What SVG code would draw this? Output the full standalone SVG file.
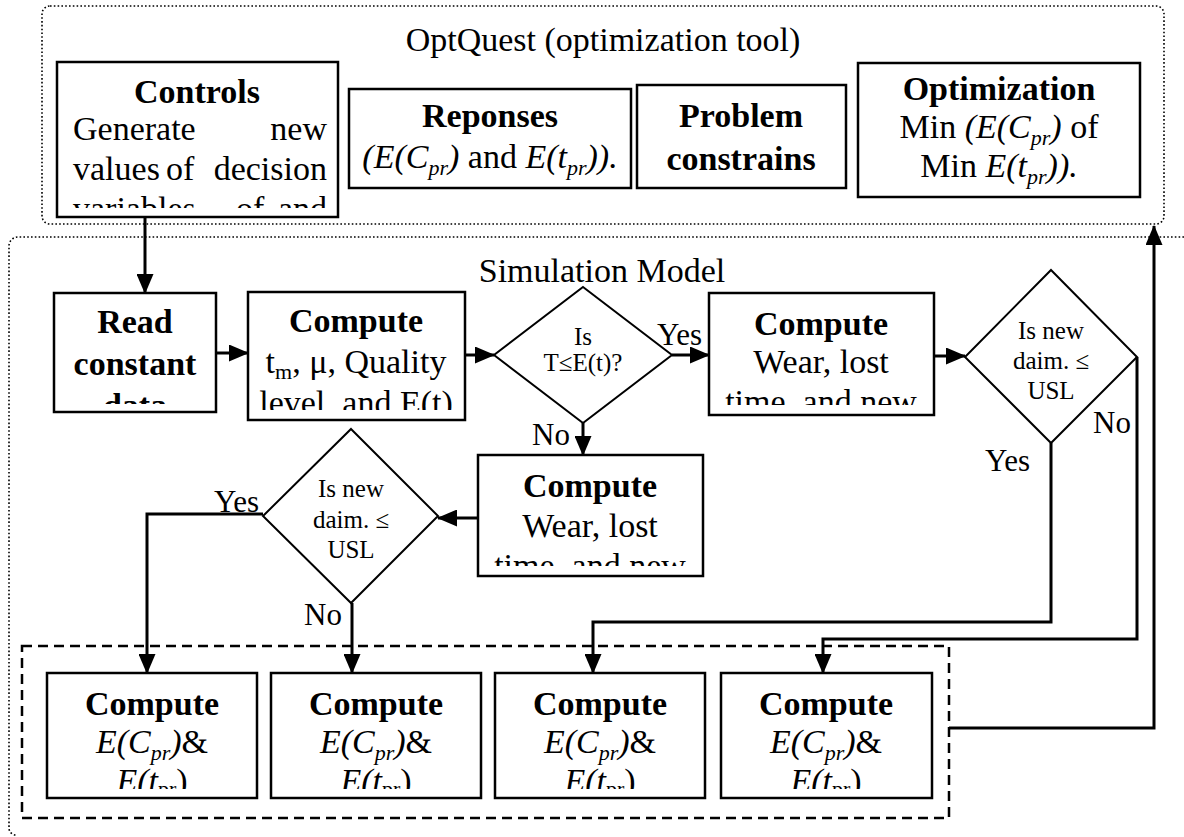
<svg xmlns="http://www.w3.org/2000/svg" width="1184" height="837" viewBox="0 0 1184 837">
<style>
.box{fill:#fff;stroke:#000;stroke-width:2.5}
.dia{fill:#fff;stroke:#000;stroke-width:2}
.dot{fill:none;stroke:#000;stroke-width:1.6;stroke-dasharray:1.6 2.2}
.dash{fill:none;stroke:#000;stroke-width:2.5;stroke-dasharray:10 6}
.t{font-family:"Liberation Serif","Times New Roman",serif;font-size:34px;fill:#000}
.b{font-weight:bold}
.i{font-style:italic}
.s{font-size:25px}
.lbl{font-size:31px}
.con{fill:none;stroke:#000;stroke-width:3}
</style>
<defs>
<marker id="ah" markerUnits="userSpaceOnUse" markerWidth="20" markerHeight="17" viewBox="0 0 20 17" refX="19" refY="8.5" orient="auto"><path d="M0,0 L20,8.5 L0,17 z" fill="#000"/></marker>
<clipPath id="cControls"><rect x="57" y="62" width="281" height="146"/></clipPath>
<clipPath id="cRead"><rect x="54" y="293" width="162" height="111"/></clipPath>
<clipPath id="cComp1"><rect x="248" y="292" width="217" height="118"/></clipPath>
<clipPath id="cWear1"><rect x="709" y="293" width="225" height="112"/></clipPath>
<clipPath id="cWear2"><rect x="478" y="455" width="225" height="111"/></clipPath>
<clipPath id="cBot"><rect x="22" y="673" width="927" height="116"/></clipPath>
</defs>
<rect width="1184" height="837" fill="#fff"/>

<g id="containers">
<rect class="dot" x="42" y="6" width="1122" height="218" rx="8"/>
<text class="t" x="603" y="51" text-anchor="middle">OptQuest (optimization tool)</text>
<path class="dot" d="M1184,237 H18 A9,9 0 0 0 9,246 V828 A7,7 0 0 0 16,835"/>
<text class="t" x="602" y="282" text-anchor="middle">Simulation Model</text>
<rect class="dash" x="22" y="646" width="927" height="172"/>
</g>

<g id="controls">
<rect class="box" x="57" y="62" width="281" height="155"/>
<g clip-path="url(#cControls)">
<text class="t b" x="197" y="103" text-anchor="middle">Controls</text>
<text class="t" y="140"><tspan x="73">Generate</tspan><tspan x="327" text-anchor="end">new</tspan></text>
<text class="t" y="180"><tspan x="73">values</tspan><tspan x="166">of</tspan><tspan x="327" text-anchor="end">decision</tspan></text>
<text class="t" y="220"><tspan x="73">variables</tspan><tspan x="236">of</tspan><tspan x="327" text-anchor="end">and</tspan></text>
</g>
</g>

<g id="reponses">
<rect class="box" x="349" y="89" width="282" height="99"/>
<text class="t b" x="490" y="127" text-anchor="middle">Reponses</text>
<text class="t" x="490" y="168" text-anchor="middle"><tspan class="i">(E(C</tspan><tspan class="i" font-size="22" dy="7">pr</tspan><tspan class="i" dy="-7">)</tspan> and <tspan class="i">E(t</tspan><tspan class="i" font-size="22" dy="7">pr</tspan><tspan class="i" dy="-7">)).</tspan></text>
</g>

<g id="constraints">
<rect class="box" x="637" y="85" width="209" height="103"/>
<text class="t b" x="741" y="127" text-anchor="middle">Problem</text>
<text class="t b" x="741" y="170" text-anchor="middle">constrains</text>
</g>

<g id="optimization">
<rect class="box" x="858" y="63" width="282" height="134"/>
<text class="t b" x="999" y="100" text-anchor="middle">Optimization</text>
<text class="t" x="999" y="138" text-anchor="middle">Min <tspan class="i">(E(C</tspan><tspan class="i" font-size="22" dy="7">pr</tspan><tspan class="i" dy="-7">)</tspan> of</text>
<text class="t" x="999" y="177" text-anchor="middle">Min  <tspan class="i">E(t</tspan><tspan class="i" font-size="22" dy="7">pr</tspan><tspan class="i" dy="-7">)).</tspan></text>
</g>

<g id="read">
<rect class="box" x="54" y="293" width="162" height="119"/>
<g clip-path="url(#cRead)">
<text class="t b" x="135" y="333" text-anchor="middle">Read</text>
<text class="t b" x="135" y="375" text-anchor="middle">constant</text>
<text class="t b" x="135" y="417" text-anchor="middle">data</text>
</g>
</g>

<g id="compute1">
<rect class="box" x="248" y="292" width="217" height="128"/>
<g clip-path="url(#cComp1)">
<text class="t b" x="356" y="332" text-anchor="middle">Compute</text>
<text class="t" x="356" y="373" text-anchor="middle">t<tspan font-size="22" dy="6">m</tspan><tspan dy="-6">, μ, Quality</tspan></text>
<text class="t" x="356" y="414" text-anchor="middle">level, and E(t)</text>
</g>
</g>

<g id="decision1">
<polygon class="dia" points="583,287 672,355 583,423 494,355"/>
<text class="t s" x="583" y="345" text-anchor="middle">Is</text>
<text class="t s" x="583" y="371" text-anchor="middle">T≤E(t)?</text>
</g>

<g id="wear1">
<rect class="box" x="709" y="293" width="225" height="122"/>
<g clip-path="url(#cWear1)">
<text class="t b" x="821" y="335" text-anchor="middle">Compute</text>
<text class="t" x="821" y="373" text-anchor="middle">Wear, lost</text>
<text class="t" x="821" y="413" text-anchor="middle">time, and new</text>
</g>
</g>

<g id="decision2">
<polygon class="dia" points="1051,270 1137,357 1051,443 965,357"/>
<text class="t s" x="1051" y="339" text-anchor="middle">Is new</text>
<text class="t s" x="1051" y="369" text-anchor="middle">daim. ≤</text>
<text class="t s" x="1051" y="399" text-anchor="middle">USL</text>
</g>

<g id="wear2">
<rect class="box" x="478" y="455" width="225" height="121"/>
<g clip-path="url(#cWear2)">
<text class="t b" x="590" y="497" text-anchor="middle">Compute</text>
<text class="t" x="590" y="537" text-anchor="middle">Wear, lost</text>
<text class="t" x="590" y="577" text-anchor="middle">time, and new</text>
</g>
</g>

<g id="decision3">
<polygon class="dia" points="351,429 438,516 351,603 263,516"/>
<text class="t s" x="351" y="497" text-anchor="middle">Is new</text>
<text class="t s" x="351" y="528" text-anchor="middle">daim. ≤</text>
<text class="t s" x="351" y="558" text-anchor="middle">USL</text>
</g>

<g id="result1">
<rect class="box" x="47" y="673" width="210" height="125"/>
<g clip-path="url(#cBot)">
<text class="t b" x="152" y="715" text-anchor="middle">Compute</text>
<text class="t" x="152" y="753" text-anchor="middle"><tspan class="i">E(C</tspan><tspan class="i" font-size="22" dy="7">pr</tspan><tspan class="i" dy="-7">)</tspan>&amp;</text>
<text class="t" x="152" y="792" text-anchor="middle"><tspan class="i">E(t</tspan><tspan font-size="22" dy="4">pr</tspan><tspan dy="-4">)</tspan></text>
</g>
</g>
<g id="result2">
<rect class="box" x="271" y="673" width="210" height="125"/>
<g clip-path="url(#cBot)">
<text class="t b" x="376" y="715" text-anchor="middle">Compute</text>
<text class="t" x="376" y="753" text-anchor="middle"><tspan class="i">E(C</tspan><tspan class="i" font-size="22" dy="7">pr</tspan><tspan class="i" dy="-7">)</tspan>&amp;</text>
<text class="t" x="376" y="792" text-anchor="middle"><tspan class="i">E(t</tspan><tspan font-size="22" dy="4">pr</tspan><tspan dy="-4">)</tspan></text>
</g>
</g>
<g id="result3">
<rect class="box" x="495" y="673" width="210" height="125"/>
<g clip-path="url(#cBot)">
<text class="t b" x="600" y="715" text-anchor="middle">Compute</text>
<text class="t" x="600" y="753" text-anchor="middle"><tspan class="i">E(C</tspan><tspan class="i" font-size="22" dy="7">pr</tspan><tspan class="i" dy="-7">)</tspan>&amp;</text>
<text class="t" x="600" y="792" text-anchor="middle"><tspan class="i">E(t</tspan><tspan font-size="22" dy="4">pr</tspan><tspan dy="-4">)</tspan></text>
</g>
</g>
<g id="result4">
<rect class="box" x="721" y="673" width="211" height="125"/>
<g clip-path="url(#cBot)">
<text class="t b" x="826" y="715" text-anchor="middle">Compute</text>
<text class="t" x="826" y="753" text-anchor="middle"><tspan class="i">E(C</tspan><tspan class="i" font-size="22" dy="7">pr</tspan><tspan class="i" dy="-7">)</tspan>&amp;</text>
<text class="t" x="826" y="792" text-anchor="middle"><tspan class="i">E(t</tspan><tspan font-size="22" dy="4">pr</tspan><tspan dy="-4">)</tspan></text>
</g>
</g>

<g id="connectors">
<path class="con" d="M145,217 V293" marker-end="url(#ah)"/>
<path class="con" d="M216,353 H248" marker-end="url(#ah)"/>
<path class="con" d="M465,355 H494" marker-end="url(#ah)"/>
<path class="con" d="M672,355 H709" marker-end="url(#ah)"/>
<path class="con" d="M583,423 V455" marker-end="url(#ah)"/>
<path class="con" d="M934,356 H965" marker-end="url(#ah)"/>
<path class="con" d="M1137,357 V639 H823 V673" marker-end="url(#ah)"/>
<path class="con" d="M1051,443 V622 H593 V673" marker-end="url(#ah)"/>
<path class="con" d="M478,518 H438" marker-end="url(#ah)"/>
<path class="con" d="M263,514 H147 V673" marker-end="url(#ah)"/>
<path class="con" d="M352,603 V673" marker-end="url(#ah)"/>
<path class="con" d="M949,728 H1154 V226" marker-end="url(#ah)"/>
<text class="t lbl" x="657" y="345">Yes</text>
<text class="t lbl" x="532" y="445">No</text>
<text class="t lbl" x="1093" y="433">No</text>
<text class="t lbl" x="985" y="471">Yes</text>
<text class="t lbl" x="214" y="512">Yes</text>
<text class="t lbl" x="304" y="625">No</text>
</g>
</svg>
